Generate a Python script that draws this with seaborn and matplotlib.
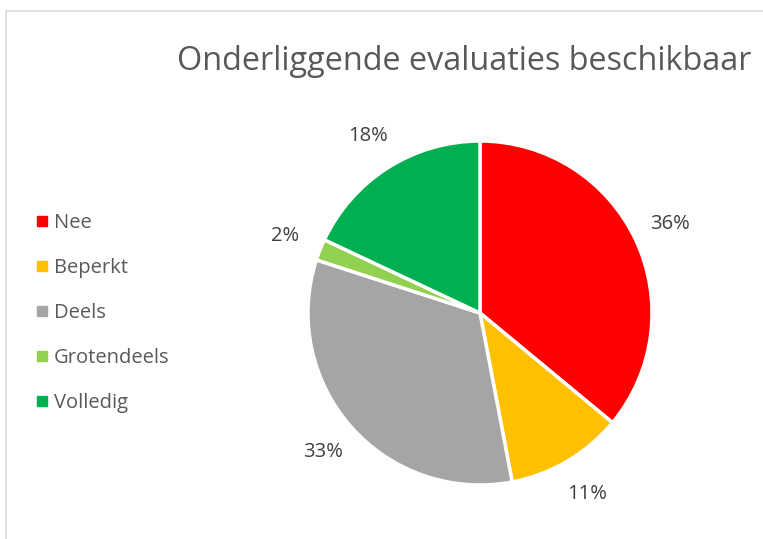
import matplotlib.pyplot as plt
import seaborn as sns
from matplotlib.patches import Rectangle
from matplotlib.lines import Line2D

categories = ['Nee', 'Beperkt', 'Deels', 'Grotendeels', 'Volledig']
shares = [36, 11, 33, 2, 18]
colours = ['#FF0000', '#FFC000', '#A5A5A5', '#92D050', '#00B050']
title = 'Onderliggende evaluaties beschikbaar'

sns.set_theme(style='white')
plt.rcParams['font.family'] = ['Open Sans', 'DejaVu Sans']

fig = plt.figure(figsize=(7.63, 5.39), dpi=100)
W, H = 763, 539

# chart border (light grey frame, runs off the right/bottom edge)
fig.patches.append(Rectangle((6 / W, -0.1), 1.2, 1 - 11 / H + 0.1,
                             transform=fig.transFigure, fill=False,
                             edgecolor='#D9D9D9', linewidth=1.2))

# pie axes: centre (480, 313), radius ~172 px
r = 172
ax = fig.add_axes([(480 - r) / W, (H - 313 - r) / H, 2 * r / W, 2 * r / H])
wedges, _, autotexts = ax.pie(
    shares, colors=sns.color_palette(colours), startangle=90, counterclock=False,
    autopct='%1.0f%%', pctdistance=1.22,
    wedgeprops=dict(edgecolor='white', linewidth=2.5),
    textprops=dict(color='#404040', fontsize=14.5),
)
ax.set_xlim(-1, 1)
ax.set_ylim(-1, 1)
ax.set_aspect('equal')
for t in autotexts:
    t.set_clip_on(False)

fig.text(464 / W, 1 - 62 / H, title, ha='center', va='center',
         fontsize=23.3, color='#595959')

handles = [Line2D([], [], marker='s', linestyle='none', markersize=7,
                  markerfacecolor=c, markeredgecolor=c) for c in colours]
fig.legend(handles, categories, loc='center left',
           bbox_to_anchor=(22 / W, 1 - 313 / H), frameon=False,
           fontsize=14.5, labelcolor='#595959', handletextpad=0.1,
           labelspacing=1.25, handlelength=1.0, borderpad=0)

fig.savefig('out.png', dpi=100, facecolor='white')
